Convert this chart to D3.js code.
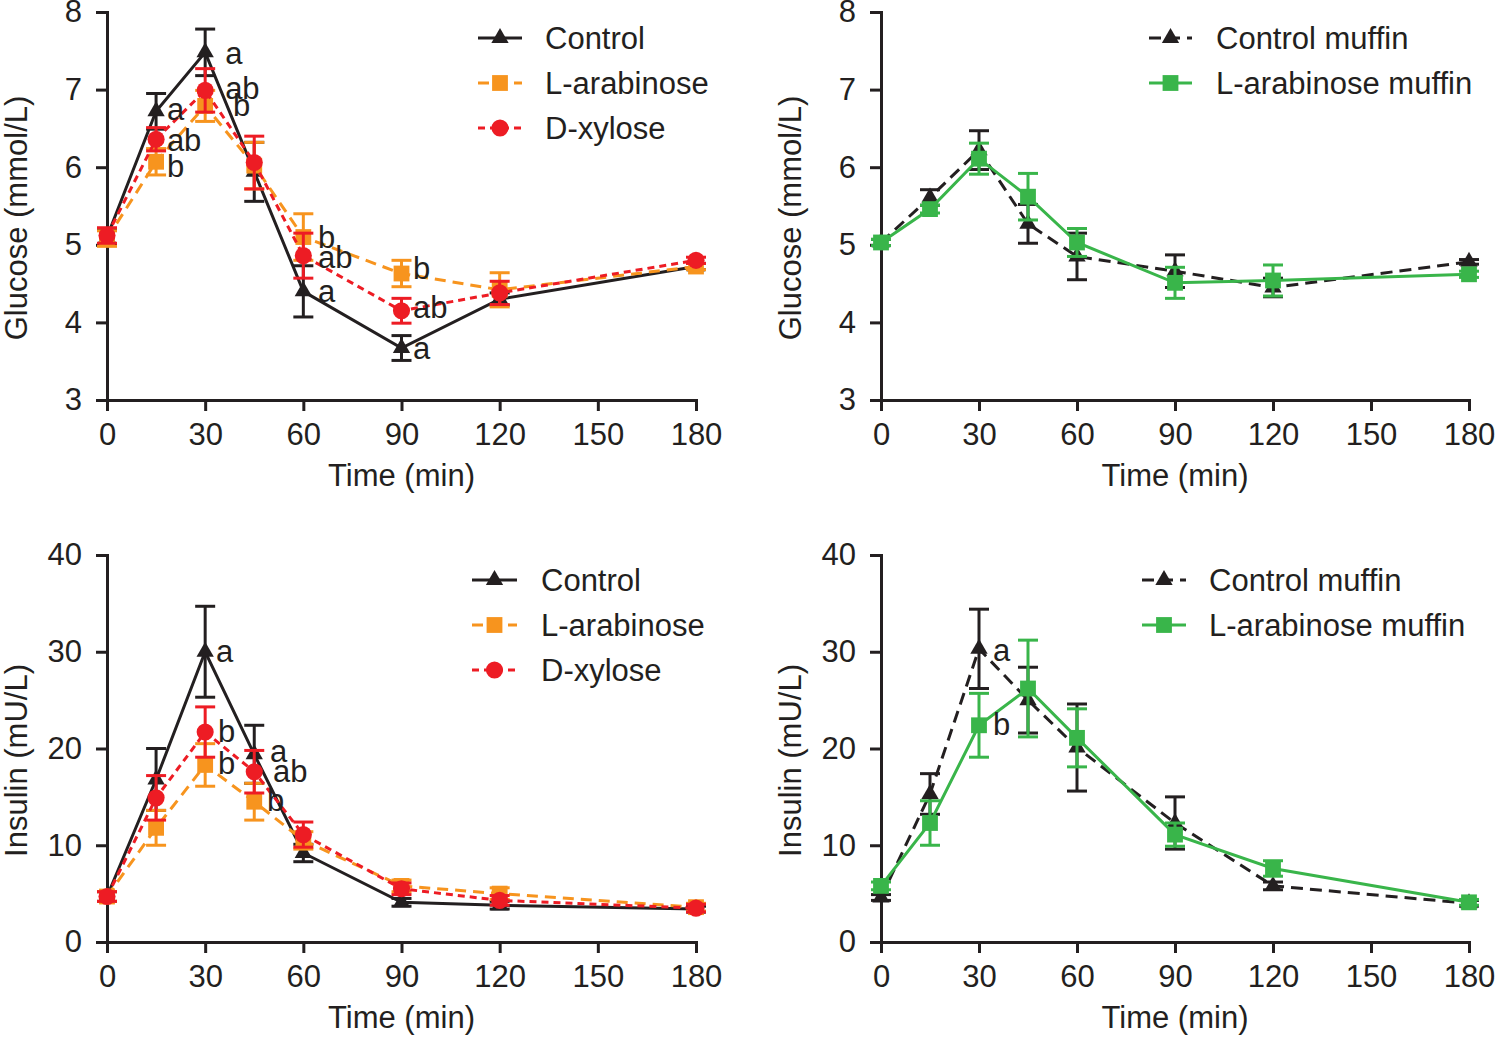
<!DOCTYPE html>
<html>
<head>
<meta charset="utf-8">
<script src="https://cdn.jsdelivr.net/npm/d3@7"></script>
<style>
  body { margin: 0; background: #fff; }
  svg text { font-family: "Liberation Sans", Arial, Helvetica, sans-serif; fill: #231f20; }
</style>
</head>
<body>
<div id="chart"></div>
<script>
// ── data ─────────────────────────────────────────────
const times = [0, 15, 30, 45, 60, 90, 120, 180];
const xTicks = [0, 30, 60, 90, 120, 150, 180];
const glucoseTicks = [3, 4, 5, 6, 7, 8];
const insulinTicks = [0, 10, 20, 30, 40];

// glucose, sugars (mmol/L)
const gluControl      = [5.10, 6.72, 7.48, 5.94, 4.40, 3.67, 4.30, 4.72];
const gluControlErr   = [0.10, 0.23, 0.30, 0.38, 0.33, 0.16, 0.08, 0.04];
const gluArabinose    = [5.08, 6.07, 6.79, 6.02, 5.10, 4.63, 4.42, 4.72];
const gluArabinoseErr = [0.10, 0.17, 0.20, 0.30, 0.30, 0.17, 0.22, 0.04];
const gluXylose       = [5.12, 6.36, 6.99, 6.06, 4.86, 4.15, 4.38, 4.80];
const gluXyloseErr    = [0.10, 0.15, 0.28, 0.34, 0.29, 0.16, 0.15, 0.04];

// glucose, muffins
const gluCtrlMuffin      = [5.03, 5.61, 6.22, 5.27, 4.85, 4.66, 4.45, 4.78];
const gluCtrlMuffinErr   = [0.04, 0.10, 0.25, 0.25, 0.30, 0.21, 0.12, 0.03];
const gluAraMuffin       = [5.03, 5.46, 6.11, 5.62, 5.03, 4.51, 4.54, 4.62];
const gluAraMuffinErr    = [0.04, 0.05, 0.20, 0.30, 0.18, 0.20, 0.20, 0.04];

// insulin, sugars (mU/L)
const insControl      = [4.7, 16.8, 30.0, 19.4, 9.2, 4.1, 3.8, 3.4];
const insControlErr   = [0.5, 3.2, 4.7, 3.0, 0.9, 0.4, 0.4, 0.3];
const insArabinose    = [4.7, 11.8, 18.3, 14.5, 10.5, 5.8, 5.0, 3.6];
const insArabinoseErr = [0.5, 1.8, 2.2, 1.9, 0.9, 0.6, 0.6, 0.4];
const insXylose       = [4.7, 14.9, 21.7, 17.6, 11.1, 5.5, 4.3, 3.5];
const insXyloseErr    = [0.5, 2.3, 2.6, 2.2, 1.3, 0.6, 0.5, 0.4];

// insulin, muffins
const insCtrlMuffin    = [4.6, 15.3, 30.3, 25.0, 20.1, 12.3, 5.8, 4.0];
const insCtrlMuffinErr = [0.3, 2.1, 4.1, 3.4, 4.5, 2.7, 0.4, 0.3];
const insAraMuffin     = [5.8, 12.3, 22.4, 26.2, 21.1, 11.1, 7.6, 4.1];
const insAraMuffinErr  = [0.4, 2.3, 3.3, 5.0, 3.0, 1.2, 0.8, 0.3];

// significance letters (time, value, text)
const gluSugarLetters = [
  { t: 18.3, v: 6.74, text: "a" }, { t: 18.3, v: 6.35, text: "ab" }, { t: 18.3, v: 6.01, text: "b" },
  { t: 36.1, v: 7.47, text: "a" }, { t: 36.1, v: 7.01, text: "ab" }, { t: 38.5, v: 6.80, text: "b" },
  { t: 64.5, v: 5.10, text: "b" }, { t: 64.5, v: 4.84, text: "ab" }, { t: 64.5, v: 4.40, text: "a" },
  { t: 93.5, v: 4.70, text: "b" }, { t: 93.5, v: 4.19, text: "ab" }, { t: 93.5, v: 3.67, text: "a" }
];
const insSugarLetters = [
  { t: 33.3, v: 30.0, text: "a" }, { t: 33.9, v: 21.8, text: "b" }, { t: 33.9, v: 18.4, text: "b" },
  { t: 49.8, v: 19.7, text: "a" }, { t: 50.7, v: 17.6, text: "ab" }, { t: 48.9, v: 14.6, text: "b" }
];
const insMuffinLetters = [
  { t: 34.3, v: 30.1, text: "a" }, { t: 34.3, v: 22.5, text: "b" }
];

// ── styles ───────────────────────────────────────────
const BLACK = "#231f20", ORANGE = "#f7941e", RED = "#ed1c24", GREEN = "#39b54a";
const FONT = 31;

const svg = d3.select("#chart").append("svg")
  .attr("width", 1496).attr("height", 1039);

function series(name, values, errs, color, dash, shape) {
  return { name, values, errs, color, dash, shape };
}

const panels = [
  {
    x: [107, 696], y: [400, 12], domain: [3, 8], ticks: glucoseTicks,
    yTitle: "Glucose (mmol/L)", titleX: 16,
    series: [
      series("Control", gluControl, gluControlErr, BLACK, null, "triangle"),
      series("L-arabinose", gluArabinose, gluArabinoseErr, ORANGE, "11,7", "square"),
      series("D-xylose", gluXylose, gluXyloseErr, RED, "7,5", "circle")
    ],
    letters: gluSugarLetters,
    legend: { x1: 478, x2: 522, tx: 545, y0: 38 }
  },
  {
    x: [881, 1469], y: [400, 12], domain: [3, 8], ticks: glucoseTicks,
    yTitle: "Glucose (mmol/L)", titleX: 790,
    series: [
      series("Control muffin", gluCtrlMuffin, gluCtrlMuffinErr, BLACK, "12,7", "triangle"),
      series("L-arabinose muffin", gluAraMuffin, gluAraMuffinErr, GREEN, null, "square")
    ],
    letters: [],
    legend: { x1: 1149, x2: 1192, tx: 1216, y0: 38 }
  },
  {
    x: [107, 696], y: [942, 555], domain: [0, 40], ticks: insulinTicks,
    yTitle: "Insulin (mU/L)", titleX: 16,
    series: [
      series("Control", insControl, insControlErr, BLACK, null, "triangle"),
      series("L-arabinose", insArabinose, insArabinoseErr, ORANGE, "11,7", "square"),
      series("D-xylose", insXylose, insXyloseErr, RED, "7,5", "circle")
    ],
    letters: insSugarLetters,
    legend: { x1: 472, x2: 517, tx: 541, y0: 580 }
  },
  {
    x: [881, 1469], y: [942, 555], domain: [0, 40], ticks: insulinTicks,
    yTitle: "Insulin (mU/L)", titleX: 790,
    series: [
      series("Control muffin", insCtrlMuffin, insCtrlMuffinErr, BLACK, "12,7", "triangle"),
      series("L-arabinose muffin", insAraMuffin, insAraMuffinErr, GREEN, null, "square")
    ],
    letters: insMuffinLetters,
    legend: { x1: 1142, x2: 1186, tx: 1209, y0: 580 }
  }
];

const shapes = {
  triangle: d3.symbol(d3.symbolTriangle, 130),
  square: d3.symbol(d3.symbolSquare, 250),
  circle: d3.symbol(d3.symbolCircle, 230)
};

function drawPanel(p) {
  const xScale = d3.scaleLinear().domain([0, 180]).range(p.x);
  const yScale = d3.scaleLinear().domain(p.domain).range(p.y);
  const g = svg.append("g");

  // axes
  const xAxis = g.append("g")
    .attr("transform", `translate(0,${p.y[0]})`)
    .call(d3.axisBottom(xScale).tickValues(xTicks).tickSize(11).tickSizeOuter(0).tickPadding(12));
  const yAxis = g.append("g")
    .attr("transform", `translate(${p.x[0]},0)`)
    .call(d3.axisLeft(yScale).tickValues(p.ticks).tickFormat(d3.format("d"))
      .tickSize(11).tickSizeOuter(0).tickPadding(14));
  [xAxis, yAxis].forEach(a => {
    a.select(".domain").attr("stroke", BLACK).attr("stroke-width", 3).attr("stroke-linecap", "square");
    a.selectAll(".tick line").attr("stroke", BLACK).attr("stroke-width", 3);
    a.selectAll(".tick text").attr("font-size", FONT).attr("fill", BLACK)
      .attr("font-family", "Liberation Sans, Arial, sans-serif");
  });

  g.append("text")
    .attr("x", (p.x[0] + p.x[1]) / 2)
    .attr("y", p.y[0] + 86)
    .attr("text-anchor", "middle")
    .attr("font-size", FONT)
    .text("Time (min)");

  g.append("text")
    .attr("transform", `translate(${p.titleX},${(p.y[0] + p.y[1]) / 2 + 12}) rotate(-90)`)
    .attr("text-anchor", "middle")
    .attr("dominant-baseline", "central")
    .attr("font-size", FONT)
    .text(p.yTitle);

  const line = d3.line()
    .x((d, i) => xScale(times[i]))
    .y(d => yScale(d));

  // lines, then error bars, then markers, series after series
  p.series.forEach(s => {
    const sg = g.append("g");
    sg.append("path")
      .datum(s.values)
      .attr("d", line)
      .attr("fill", "none")
      .attr("stroke", s.color)
      .attr("stroke-width", 3)
      .attr("stroke-dasharray", s.dash);

    const pts = s.values.map((v, i) => ({ t: times[i], v, e: s.errs[i] }));
    const eb = sg.selectAll(".err").data(pts).join("g").attr("class", "err")
      .attr("stroke", s.color).attr("stroke-width", 3);
    eb.append("line")
      .attr("x1", d => xScale(d.t)).attr("x2", d => xScale(d.t))
      .attr("y1", d => yScale(d.v - d.e)).attr("y2", d => yScale(d.v + d.e));
    eb.append("line")
      .attr("x1", d => xScale(d.t) - 10).attr("x2", d => xScale(d.t) + 10)
      .attr("y1", d => yScale(d.v + d.e)).attr("y2", d => yScale(d.v + d.e));
    eb.append("line")
      .attr("x1", d => xScale(d.t) - 10).attr("x2", d => xScale(d.t) + 10)
      .attr("y1", d => yScale(d.v - d.e)).attr("y2", d => yScale(d.v - d.e));

    sg.selectAll(".mark").data(pts).join("path").attr("class", "mark")
      .attr("d", shapes[s.shape])
      .attr("transform", d => `translate(${xScale(d.t)},${yScale(d.v)})`)
      .attr("fill", s.color);
  });

  // significance letters
  g.selectAll(".letter").data(p.letters).join("text")
    .attr("class", "letter")
    .attr("x", d => xScale(d.t))
    .attr("y", d => yScale(d.v))
    .attr("dominant-baseline", "central")
    .attr("font-size", FONT)
    .text(d => d.text);

  // legend
  p.series.forEach((s, i) => {
    const ly = p.legend.y0 + i * 45;
    const lg = g.append("g");
    lg.append("line")
      .attr("x1", p.legend.x1).attr("x2", p.legend.x2)
      .attr("y1", ly).attr("y2", ly)
      .attr("stroke", s.color).attr("stroke-width", 3)
      .attr("stroke-dasharray", s.dash);
    lg.append("path")
      .attr("d", shapes[s.shape])
      .attr("transform", `translate(${(p.legend.x1 + p.legend.x2) / 2},${ly})`)
      .attr("fill", s.color);
    lg.append("text")
      .attr("x", p.legend.tx).attr("y", ly)
      .attr("dominant-baseline", "central")
      .attr("font-size", FONT)
      .text(s.name);
  });
}

panels.forEach(drawPanel);
</script>
</body>
</html>
